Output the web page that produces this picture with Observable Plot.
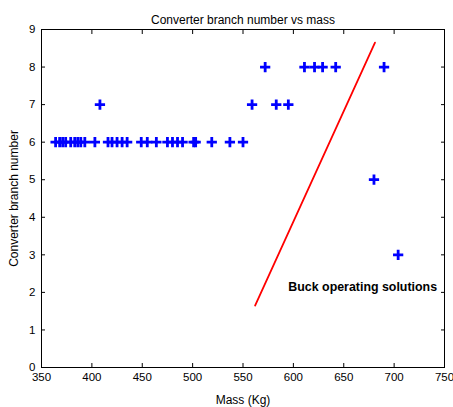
<!DOCTYPE html>
<html>
<head>
<meta charset="utf-8">
<script src="https://cdn.jsdelivr.net/npm/d3@7"></script>
<script src="https://cdn.jsdelivr.net/npm/@observablehq/plot@0.6"></script>
<style>
  html, body { margin: 0; padding: 0; background: #fff; }
  svg { display: block; }
</style>
</head>
<body>
<div id="chart"></div>
<script>
// Data
const masses   = [364, 368, 371, 374, 379, 383, 386, 389, 393, 403, 416, 420, 425, 430, 435, 449, 455, 464, 475, 480, 485, 490, 501, 503, 519, 537, 550,
                  408, 559, 583, 595,
                  572, 611, 621, 629, 642, 690,
                  680, 704];
const branches = [6, 6, 6, 6, 6, 6, 6, 6, 6, 6, 6, 6, 6, 6, 6, 6, 6, 6, 6, 6, 6, 6, 6, 6, 6, 6, 6,
                  7, 7, 7, 7,
                  8, 8, 8, 8, 8, 8,
                  5, 3];
const boundaryMass   = [562, 681];
const boundaryBranch = [1.65, 8.65];
const xTicks = [350, 400, 450, 500, 550, 600, 650, 700, 750];
const yTicks = [0, 1, 2, 3, 4, 5, 6, 7, 8, 9];
const titleText = "Converter branch number vs mass";
const xLabel = "Mass (Kg)";
const yLabel = "Converter branch number";
const annotation = "Buck operating solutions";

const points = masses.map((m, i) => ({mass: m, branch: branches[i]}));
const boundary = boundaryMass.map((m, i) => ({mass: m, branch: boundaryBranch[i]}));

const chart = Plot.plot({
  width: 453,
  height: 407,
  marginLeft: 41,
  marginRight: 9,
  marginTop: 29,
  marginBottom: 40,
  style: {fontFamily: "Liberation Sans, Arial, sans-serif", fontSize: "12px", background: "#fff", color: "#000"},
  x: {domain: [350, 750], ticks: xTicks},
  y: {domain: [0, 9], ticks: yTicks},
  marks: [
    Plot.frame({stroke: "#000", strokeWidth: 1}),
    Plot.axisX({anchor: "bottom", ticks: xTicks, tickSize: -4, tickPadding: 9, tickFormat: d => String(d),
      label: null, fontSize: 11.5}),
    Plot.axisX({anchor: "bottom", ticks: [], label: xLabel, labelAnchor: "center", labelOffset: 36, labelArrow: "none", fontSize: 12}),
    Plot.axisX({anchor: "top", ticks: xTicks, tickSize: -4, tickFormat: () => "", label: null}),
    Plot.axisY({anchor: "left", ticks: yTicks, tickSize: -4, tickPadding: 10, tickFormat: d => String(d),
      label: null, fontSize: 11.5}),
    Plot.axisY({anchor: "left", ticks: [], label: yLabel, labelAnchor: "center", labelOffset: 32, labelArrow: "none", fontSize: 12}),
    Plot.axisY({anchor: "right", ticks: yTicks, tickSize: -4, tickFormat: () => "", label: null}),
    Plot.line(boundary, {x: "mass", y: "branch", stroke: "#ff0000", strokeWidth: 1.8}),
    Plot.dot(points, {x: "mass", y: "branch", symbol: "plus", r: 3.4, stroke: "#0000ff", strokeWidth: 2.8}),
    Plot.text([annotation], {x: 595, y: 2.13, text: d => d, textAnchor: "start", fontWeight: "bold", fontSize: 12.4, fill: "#000"}),
    Plot.text([titleText], {frameAnchor: "top", dy: -14, text: d => d, fontSize: 12, fill: "#000"})
  ]
});
document.getElementById("chart").appendChild(chart);
</script>
</body>
</html>
